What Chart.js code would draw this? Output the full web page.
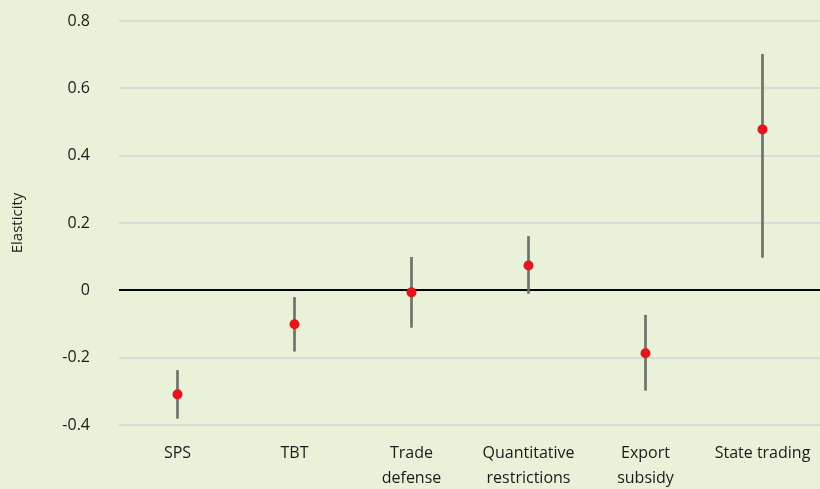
<!DOCTYPE html>
<html>
<head>
<meta charset="utf-8">
<script src="https://cdn.jsdelivr.net/npm/chart.js@4/dist/chart.umd.min.js"></script>
<style>
    html, body { margin: 0; padding: 0; background: #e9f2d9; overflow: hidden; }
    #wrap { width: 826px; height: 489px; }
</style>
</head>
<body>
<div id="wrap"><canvas id="chart1"></canvas></div>
<script>
// categories and estimates
const categories = ['SPS', 'TBT', ['Trade', 'defense'], ['Quantitative', 'restrictions'], ['Export', 'subsidy'], 'State trading'];
const elasticity = [-0.309, -0.101, -0.006, 0.074, -0.187, 0.478];
const lowerBound = [-0.380, -0.181, -0.110, -0.009, -0.297, 0.098];
const upperBound = [-0.238, -0.021, 0.098, 0.160, -0.074, 0.701];
const yTicks = [-0.4, -0.2, 0, 0.2, 0.4, 0.6, 0.8];

const ctx = document.getElementById('chart1').getContext('2d');
const chart = new Chart(ctx, {
    type: 'bar',
    data: {
        labels: categories,
        datasets: [{
            type: 'line',
            label: 'Elasticity',
            data: elasticity,
            showLine: false,
            pointRadius: 5,
            pointHoverRadius: 5,
            pointBackgroundColor: '#e3161f',
            pointBorderColor: '#e3161f',
            pointBorderWidth: 0,
            order: 0
        }, {
            label: 'Interval',
            data: lowerBound.map((v, i) => [v, upperBound[i]]),
            backgroundColor: '#6d7169',
            barThickness: 2,
            order: 1
        }]
    },
    options: {
        responsive: true,
        maintainAspectRatio: false,
        animation: false,
        layout: { padding: { top: 21, right: 0, bottom: 0, left: 0 } },
        plugins: {
            legend: { display: false },
            tooltip: { enabled: false }
        },
        scales: {
            x: {
                grid: { display: false },
                border: { display: false },
                afterFit: scale => { scale.height = 64; scale.paddingLeft = 0; scale.paddingRight = 0; },
                ticks: {
                    color: '#1a1a1a',
                    font: { family: 'Open Sans', size: 16, lineHeight: 1.5625 },
                    padding: 8,
                    maxRotation: 0,
                    autoSkip: false
                }
            },
            y: {
                min: -0.4,
                max: 0.8,
                afterBuildTicks: axis => { axis.ticks = yTicks.map(v => ({ value: v })); },
                afterFit: scale => { scale.paddingTop = 0; scale.paddingBottom = 0; scale.width = 119; },
                border: { display: false },
                grid: {
                    drawTicks: false,
                    color: c => c.tick && c.tick.value === 0 ? '#000000' : '#d9dcd4',
                    lineWidth: 2
                },
                ticks: {
                    color: '#1a1a1a',
                    font: { family: 'Open Sans', size: 16, lineHeight: 1.2 },
                    padding: 29,
                    callback: v => v === 0 ? '0' : String(Math.round(v * 10) / 10)
                },
                title: {
                    display: true,
                    text: 'Elasticity',
                    color: '#1a1a1a',
                    font: { family: 'Open Sans', size: 15 },
                    padding: { top: 9, bottom: 9 }
                }
            }
        }
    }
});
</script>
</body>
</html>
